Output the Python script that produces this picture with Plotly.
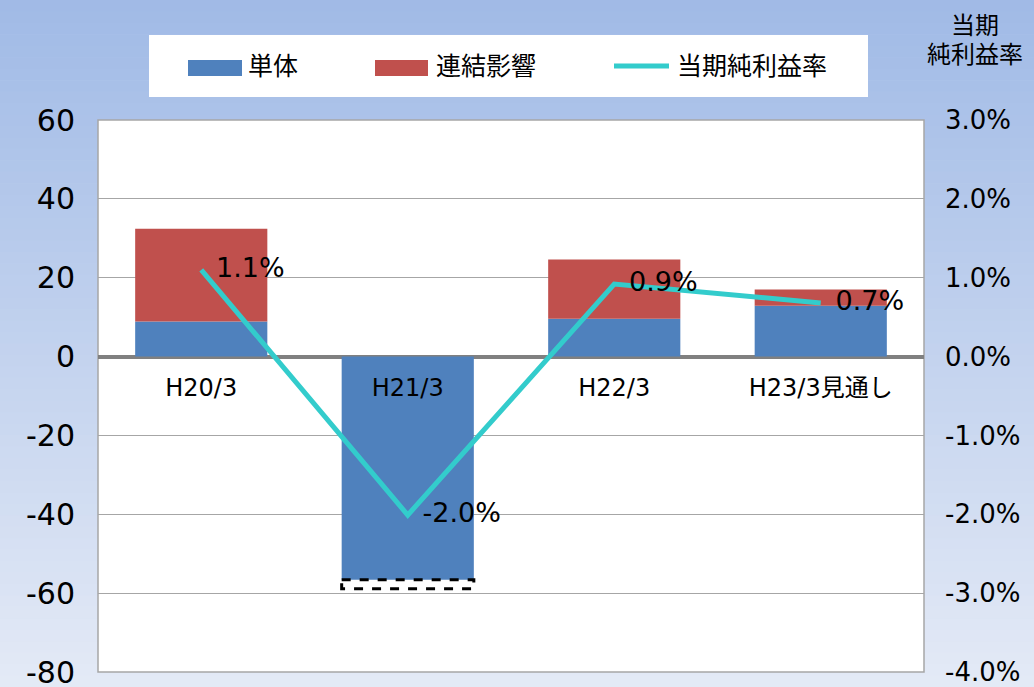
import plotly.graph_objects as go

categories = ["H20/3", "H21/3", "H22/3", "H23/3見通し"]
tanntai = [8.9, -56.6, 9.6, 12.9]            # 単体
renketsu = [23.5, -2.3, 15.0, 4.1]           # 連結影響
rieki_ritsu = [0.0110, -0.0201, 0.0092, 0.0068]  # 当期純利益率
series_names = ["単体", "連結影響", "当期純利益率"]
left_ticks = [-80, -60, -40, -20, 0, 20, 40, 60]
right_ticks = [-0.04, -0.03, -0.02, -0.01, 0.0, 0.01, 0.02, 0.03]

BLUE = "#4F81BD"
RED = "#C0504D"
TEAL = "#33CCCC"
FONT = "DejaVu Sans, Noto Sans CJK JP, sans-serif"

W, H = 1034, 687
L, R, T, B = 98, 110, 120, 15
pw, ph = W - L - R, H - T - B
BAR_W = 0.64


def px_x(p):
    return (p - L) / pw


def px_y(p):
    return (H - B - p) / ph


xs = list(range(len(categories)))
fig = go.Figure()

fig.add_trace(go.Bar(x=xs, y=tanntai, name=series_names[0], marker=dict(color=BLUE, line_width=0),
                     width=BAR_W, showlegend=False))
pos_red = [v if v > 0 else None for v in renketsu]
fig.add_trace(go.Bar(x=xs, y=pos_red, base=tanntai, name=series_names[1], marker=dict(color=RED, line_width=0),
                     width=BAR_W, showlegend=False))

# negative consolidation effect drawn as dashed outline below the single bar
for i, (b, v) in enumerate(zip(tanntai, renketsu)):
    if v < 0:
        fig.add_trace(go.Scatter(
            x=[i - BAR_W / 2, i + BAR_W / 2, i + BAR_W / 2, i - BAR_W / 2, i - BAR_W / 2],
            y=[b, b, b + v, b + v, b], mode="lines",
            line=dict(color="black", width=3, dash="dash"), showlegend=False, hoverinfo="skip"))

fig.add_trace(go.Scatter(
    x=xs, y=rieki_ritsu, yaxis="y2", name=series_names[2], mode="lines+markers+text",
    line=dict(color=TEAL, width=5), marker=dict(size=22, color="rgba(0,0,0,0)"),
    text=[f"{v*100:.1f}%" for v in rieki_ritsu], textposition="middle right",
    textfont=dict(size=27, color="black", family=FONT), showlegend=False, cliponaxis=False))

# background gradient
shapes = []
n = 60
top_c = (160, 186, 230)
bot_c = (228, 234, 246)
for k in range(n):
    t0 = k / n
    t1 = (k + 1) / n
    c = tuple(int(round(top_c[j] + (bot_c[j] - top_c[j]) * (t0 + 0.5 / n))) for j in range(3))
    shapes.append(dict(type="rect", xref="paper", yref="paper", layer="below",
                       x0=px_x(0), x1=px_x(W), y0=px_y(H * t0), y1=px_y(H * t1 + 0.5),
                       fillcolor=f"rgb{c}", line_width=0))
# plot area
shapes.append(dict(type="rect", xref="paper", yref="paper", layer="below", x0=0, x1=1, y0=0, y1=1,
                   fillcolor="white", line=dict(color="#A6A6A6", width=1.5)))
# legend box
shapes.append(dict(type="rect", xref="paper", yref="paper", layer="below",
                   x0=px_x(149), x1=px_x(868), y0=px_y(97), y1=px_y(35),
                   fillcolor="white", line_width=0))
# legend swatches
shapes.append(dict(type="rect", xref="paper", yref="paper", x0=px_x(188), x1=px_x(242),
                   y0=px_y(76), y1=px_y(60), fillcolor=BLUE, line_width=0))
shapes.append(dict(type="rect", xref="paper", yref="paper", x0=px_x(375), x1=px_x(428),
                   y0=px_y(76), y1=px_y(60), fillcolor=RED, line_width=0))
shapes.append(dict(type="line", xref="paper", yref="paper", x0=px_x(614), x1=px_x(669),
                   y0=px_y(66), y1=px_y(66), line=dict(color=TEAL, width=5)))

annotations = [
    dict(text=series_names[0], x=px_x(246), y=px_y(66), xref="paper", yref="paper", xanchor="left",
         yanchor="middle", showarrow=False, font=dict(size=25, family=FONT, color="black")),
    dict(text=series_names[1], x=px_x(434), y=px_y(66), xref="paper", yref="paper", xanchor="left",
         yanchor="middle", showarrow=False, font=dict(size=25, family=FONT, color="black")),
    dict(text=series_names[2], x=px_x(675), y=px_y(66), xref="paper", yref="paper", xanchor="left",
         yanchor="middle", showarrow=False, font=dict(size=25, family=FONT, color="black")),
    dict(text="当期", x=px_x(975), y=px_y(26), xref="paper", yref="paper", xanchor="center",
         yanchor="middle", showarrow=False, font=dict(size=24, family=FONT, color="black")),
    dict(text="純利益率", x=px_x(975), y=px_y(55), xref="paper", yref="paper", xanchor="center",
         yanchor="middle", showarrow=False, font=dict(size=24, family=FONT, color="black")),
]

fig.update_layout(
    width=W, height=H,
    margin=dict(l=L, r=R, t=T, b=B, autoexpand=False),
    barmode="overlay",
    paper_bgcolor="rgb(200,214,238)",
    plot_bgcolor="rgba(0,0,0,0)",
    showlegend=False,
    shapes=shapes,
    annotations=annotations,
    font=dict(family=FONT, color="black"),
    xaxis=dict(range=[-0.5, 3.5], tickvals=xs, ticktext=categories, anchor="free",
               position=80 / 140, showgrid=False, zeroline=False, showline=False, ticks="",
               ticklabelstandoff=14, tickfont=dict(size=24, family=FONT, color="black"), fixedrange=True),
    yaxis=dict(range=[-80, 60], tickvals=left_ticks, ticktext=[str(v) for v in left_ticks],
               showgrid=True, gridcolor="#A6A6A6", gridwidth=1, zeroline=True, zerolinecolor="#808080",
               zerolinewidth=4, ticks="", ticklabelstandoff=22, ticklabeloverflow="allow",
               tickfont=dict(size=30, family=FONT, color="black")),
    yaxis2=dict(range=[-0.04, 0.03], overlaying="y", side="right", tickvals=right_ticks,
                ticktext=[f"{v*100:.1f}%" for v in right_ticks], showgrid=False, zeroline=False,
                ticks="", ticklabelstandoff=20, ticklabeloverflow="allow",
                tickfont=dict(size=26, family=FONT, color="black")),
)

fig.write_html("out.html", config={"displayModeBar": False},
               post_script="document.body.style.margin='0';document.body.style.padding='0';"
                           "document.documentElement.style.overflow='hidden';")
